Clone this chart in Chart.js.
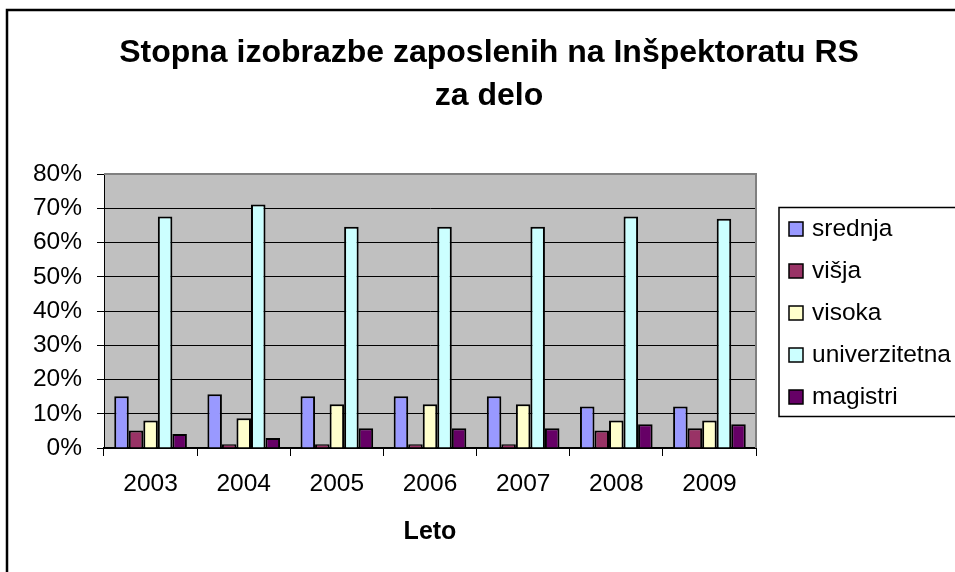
<!DOCTYPE html>
<html><head><meta charset="utf-8">
<script src="https://cdn.jsdelivr.net/npm/chart.js@4"></script>
<style>html,body{margin:0;padding:0;background:#fff}#wrap{position:relative;width:955px;height:572px}</style>
</head><body><div id="wrap"><canvas id="c" width="955" height="572"></canvas></div>
<script>
const categories = ['2003','2004','2005','2006','2007','2008','2009'];
const srednja = [15.1,15.7,15.1,15.1,15.1,12.1,12.1];
const visja = [5.1,1.1,1.1,1.1,1.1,5.1,5.8];
const visoka = [8.0,8.7,12.8,12.8,12.8,8.0,8.0];
const univerzitetna = [67.6,71.1,64.6,64.6,64.6,67.6,66.9];
const magistri = [4.1,2.9,5.8,5.8,5.8,6.9,6.9];
const seriesNames = ['srednja','višja','visoka','univerzitetna','magistri'];
const seriesValues = [srednja, visja, visoka, univerzitetna, magistri];
const seriesColors = ['#9999FF','#993366','#FFFFCC','#CCFFFF','#660066'];
const yTickValues = [0,10,20,30,40,50,60,70,80];
const titleLines = ['Stopna izobrazbe zaposlenih na Inšpektoratu RS','za delo'];
const xTitle = 'Leto';

const FONT = "'Liberation Sans', Arial, sans-serif";
const FS = 24.5;

const decor = {
  id: 'decor',
  beforeDraw(chart) {
    const {ctx, chartArea: a} = chart;
    ctx.save();
    ctx.fillStyle = '#fff';
    ctx.fillRect(0, 0, chart.width, chart.height);
    ctx.strokeStyle = '#000';
    ctx.lineWidth = 2.5;
    ctx.strokeRect(7, 10, 960, 580);
    ctx.fillStyle = '#C0C0C0';
    ctx.fillRect(a.left, a.top, a.right - a.left, a.bottom - a.top);
    ctx.restore();
  },
  afterDatasetsDraw(chart) {
    const {ctx, chartArea: a} = chart;
    ctx.save();
    ctx.strokeStyle = '#808080';
    ctx.lineWidth = 2;
    ctx.beginPath();
    ctx.moveTo(a.left, a.top);
    ctx.lineTo(a.right, a.top);
    ctx.lineTo(a.right, a.bottom);
    ctx.stroke();
    ctx.restore();
  },
  afterDraw(chart) {
    const {ctx} = chart;
    ctx.save();
    ctx.fillStyle = '#000';
    ctx.font = "bold 32px " + FONT;
    ctx.textAlign = 'center';
    ctx.textBaseline = 'middle';
    titleLines.forEach((t, i) => ctx.fillText(t, 489, 53 + i * 43));
    ctx.strokeStyle = '#000';
    ctx.lineWidth = 1.5;
    ctx.strokeRect(779, 207.5, 200, 209);
    ctx.font = FS + "px " + FONT;
    ctx.textAlign = 'left';
    chart.data.datasets.forEach((ds, i) => {
      const y = 229 + i * 42;
      ctx.fillStyle = ds.backgroundColor;
      ctx.fillRect(789, y - 7, 14, 14);
      ctx.lineWidth = 1.5;
      ctx.strokeRect(789, y - 7, 14, 14);
      ctx.fillStyle = '#000';
      ctx.fillText(ds.label, 812, y);
    });
    ctx.restore();
  }
};

new Chart(document.getElementById('c'), {
  type: 'bar',
  data: {
    labels: categories,
    datasets: seriesNames.map((n, i) => ({
      label: n,
      data: seriesValues[i],
      backgroundColor: seriesColors[i],
      borderColor: '#000',
      borderWidth: 2,
      categoryPercentage: 0.78,
      barPercentage: 1.0
    }))
  },
  options: {
    responsive: false,
    animation: false,
    devicePixelRatio: 1,
    layout: {padding: {left: 0, top: 174, right: 199, bottom: 0}},
    plugins: {legend: {display: false}, title: {display: false}, tooltip: {enabled: false}},
    scales: {
      x: {
        afterFit(s) { s.height = 124; },
        grid: {display: true, drawOnChartArea: false, drawTicks: true, tickLength: 8, color: '#000', lineWidth: 1},
        border: {display: true, color: '#000', width: 2},
        ticks: {color: '#000', font: {family: FONT, size: FS}, padding: 14},
        title: {display: true, text: xTitle, color: '#000', font: {family: FONT, size: 25, weight: 'bold'}, padding: {top: 0, bottom: 25}}
      },
      y: {
        min: 0, max: 80,
        afterFit(s) { s.width = 104; },
        afterBuildTicks(s) { s.ticks = yTickValues.map(v => ({value: v})); },
        grid: {color: '#000', lineWidth: 1, drawTicks: true, tickLength: 7},
        border: {display: true, color: '#000', width: 1},
        ticks: {color: '#000', font: {family: FONT, size: FS}, padding: 15, callback: v => v + '%'}
      }
    }
  },
  plugins: [decor]
});
</script></body></html>
